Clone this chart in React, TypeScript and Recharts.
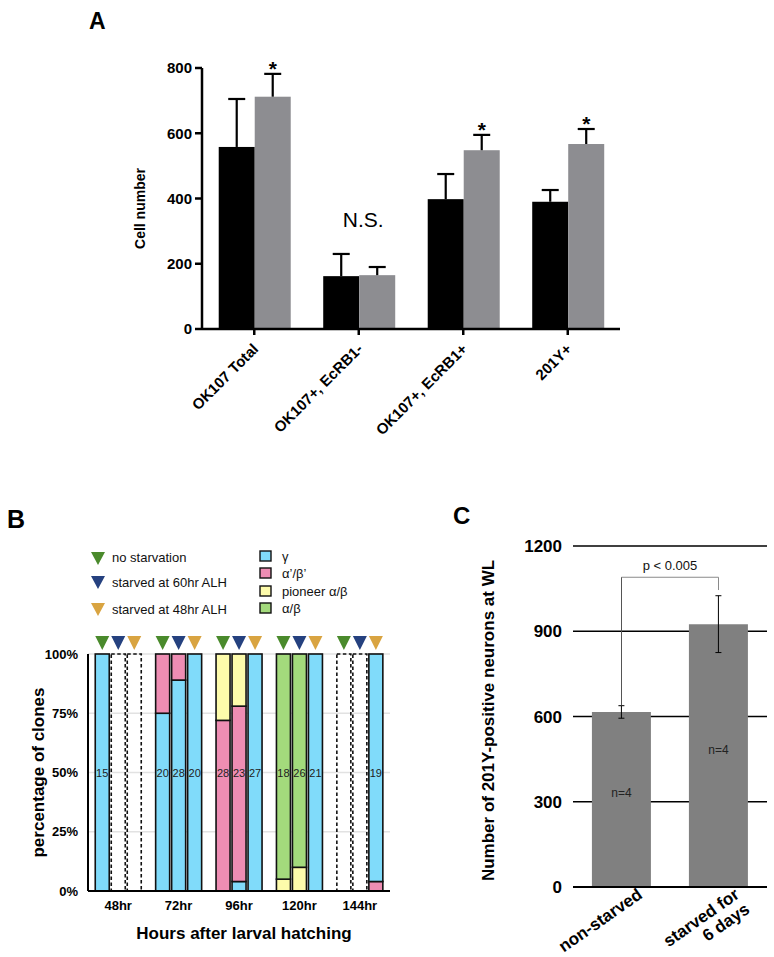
import React from 'react';
import { BarChart, Bar, XAxis, YAxis, CartesianGrid, ErrorBar, LabelList, ReferenceLine, Label } from 'recharts';

const FONT = '"Liberation Sans", Arial, Helvetica, sans-serif';

// ---------- Panel A ----------
const aCategories = ['OK107 Total', 'OK107+, EcRB1-', 'OK107+, EcRB1+', '201Y+'];
const aFed = [558, 162, 398, 390];
const aFedErr = [147, 68, 77, 36];
const aStarved = [712, 165, 548, 567];
const aStarvedErr = [70, 25, 47, 46];
const aSignif = ['*', 'N.S.', '*', '*'];
const aTicks = [0, 200, 400, 600, 800];

// ---------- Panel B ----------
const bCategories = ['48hr', '72hr', '96hr', '120hr', '144hr'];
const bYTicks = [0, 25, 50, 75, 100];
const nsAbpLow = [0, 0, 0, 0, 0];
const nsGamma = [100, 75, 0, 0, 0];
const nsAbp = [0, 25, 72, 0, 0];
const nsPioneer = [0, 0, 28, 5, 0];
const nsAb = [0, 0, 0, 95, 0];
const nsNone = [0, 0, 0, 0, 100];
const nsN = [15, 20, 28, 18, 0];
const s60AbpLow = [0, 0, 0, 0, 0];
const s60Gamma = [0, 89, 4, 0, 0];
const s60Abp = [0, 11, 74, 0, 0];
const s60Pioneer = [0, 0, 22, 10, 0];
const s60Ab = [0, 0, 0, 90, 0];
const s60None = [100, 0, 0, 0, 100];
const s60N = [0, 28, 23, 26, 0];
const s48AbpLow = [0, 0, 0, 0, 4];
const s48Gamma = [0, 100, 100, 100, 96];
const s48Abp = [0, 0, 0, 0, 0];
const s48Pioneer = [0, 0, 0, 0, 0];
const s48Ab = [0, 0, 0, 0, 0];
const s48None = [100, 0, 0, 0, 0];
const s48N = [0, 20, 27, 21, 19];
const bTypeLabels = ['γ', 'α’/β’', 'pioneer α/β', 'α/β'];

// ---------- Panel C ----------
const cCategories = ['non-starved', 'starved for\n6 days'];
const cValues = [616, 925];
const cErrors = [22, 100];
const cN = ['n=4', 'n=4'];
const cTicks = [0, 300, 600, 900, 1200];
const cBracketY = 1090;
const cBracketEnds = [640, 1045];
const cPLabel = 'p < 0.005';

const CYAN = '#80dbfa';
const PINK = '#ee8db3';
const YELLOW = '#fdfbab';
const GREEN = '#a3da7c';
const typeColors = [CYAN, PINK, YELLOW, GREEN];

const aData = aCategories.map((name, i) => ({
  name,
  fed: aFed[i],
  fedErr: aFedErr[i],
  starved: aStarved[i],
  starvedErr: aStarvedErr[i],
  sig: aSignif[i],
}));

const segOrder = ['abpLow', 'gamma', 'abp', 'pioneer', 'ab', 'none'];
const segFill: Record<string, string> = {
  abpLow: PINK,
  gamma: CYAN,
  abp: PINK,
  pioneer: YELLOW,
  ab: GREEN,
  none: 'none',
};

const bConditions = [
  {
    id: 'ns',
    label: 'no starvation',
    color: '#4a8a2c',
    segs: { abpLow: nsAbpLow, gamma: nsGamma, abp: nsAbp, pioneer: nsPioneer, ab: nsAb, none: nsNone } as Record<string, number[]>,
    n: nsN,
  },
  {
    id: 's60',
    label: 'starved at 60hr ALH',
    color: '#25417f',
    segs: { abpLow: s60AbpLow, gamma: s60Gamma, abp: s60Abp, pioneer: s60Pioneer, ab: s60Ab, none: s60None } as Record<string, number[]>,
    n: s60N,
  },
  {
    id: 's48',
    label: 'starved at 48hr ALH',
    color: '#d9a441',
    segs: { abpLow: s48AbpLow, gamma: s48Gamma, abp: s48Abp, pioneer: s48Pioneer, ab: s48Ab, none: s48None } as Record<string, number[]>,
    n: s48N,
  },
];

const bData = bCategories.map((name, i) => {
  const row: any = { name };
  bConditions.forEach((c) => {
    segOrder.forEach((s) => {
      row[`${c.id}_${s}`] = c.segs[s][i];
    });
    row[`${c.id}_n`] = c.n[i];
  });
  return row;
});

const cData = cCategories.map((name, i) => ({ name, value: cValues[i], err: cErrors[i], n: cN[i] }));

// ---------- shapes ----------
const makeAShape = (valueKey: string, errKey: string, fill: string, isStarved: boolean) => (props: any) => {
  const { x, y, width, height, payload } = props;
  const v = payload[valueKey];
  const err = payload[errKey];
  if (!(height > 0) || !v) return <g />;
  const ppu = height / v;
  const errTop = y - err * ppu;
  const cx = x + width / 2;
  return (
    <g>
      <rect x={x} y={y} width={width} height={height} fill={fill} />
      <line x1={cx} x2={cx} y1={y} y2={errTop} stroke="#000" strokeWidth={2.2} />
      <line x1={cx - 8.5} x2={cx + 8.5} y1={errTop} y2={errTop} stroke="#000" strokeWidth={2.2} />
      {isStarved && payload.sig === '*' && (
        <text x={cx} y={errTop + 2} textAnchor="middle" fontSize={21} fontWeight={700} fontFamily={FONT} fill="#000">
          *
        </text>
      )}
      {!isStarved && payload.sig !== '*' && (
        <text x={x + width + 4} y={errTop - 27} textAnchor="middle" fontSize={21} fontFamily={FONT} fill="#000">
          {payload.sig}
        </text>
      )}
    </g>
  );
};

const makeBShape = (cid: string, seg: string, triColor: string) => (props: any) => {
  const { x, y, width, height, payload } = props;
  const v = payload[`${cid}_${seg}`];
  if (!v || v <= 0 || !(height > 0)) return <g />;
  const idx = segOrder.indexOf(seg);
  let lower = 0;
  let total = 0;
  segOrder.forEach((s, k) => {
    const val = payload[`${cid}_${s}`] || 0;
    total += val;
    if (k < idx) lower += val;
  });
  const upper = lower + v;
  const ppu = height / v;
  const zeroY = y + height + lower * ppu;
  const cx = x + width / 2;
  const n = payload[`${cid}_n`];
  const isNone = seg === 'none';
  return (
    <g>
      <rect
        x={x}
        y={y}
        width={width}
        height={height}
        fill={isNone ? 'none' : segFill[seg]}
        stroke="#111"
        strokeWidth={1.6}
        strokeDasharray={isNone ? '3.5 2.5' : undefined}
      />
      {Math.abs(upper - total) < 1e-6 && (
        <polygon points={`${cx - 7},${y - 18} ${cx + 7},${y - 18} ${cx},${y - 4}`} fill={triColor} />
      )}
      {!isNone && n > 0 && lower <= 50 && upper > 50 && (
        <text x={cx} y={zeroY - 50 * ppu + 4} textAnchor="middle" fontSize={11} fill="#222" fontFamily={FONT}>
          {n}
        </text>
      )}
    </g>
  );
};

const ATick = (props: any) => {
  const { x, y, payload } = props;
  return (
    <text
      transform={`translate(${x + 5},${y + 13}) rotate(-45)`}
      textAnchor="end"
      fontSize={15}
      fontWeight={700}
      fontFamily={FONT}
      fill="#000"
    >
      {payload.value}
    </text>
  );
};

const CTick = (props: any) => {
  const { x, y, payload } = props;
  const lines = String(payload.value).split('\n');
  return (
    <g transform={`translate(${x + 22},${y + 2}) rotate(-35)`}>
      {lines.map((l, i) => (
        <text key={i} x={0} y={i * 18} textAnchor="end" fontSize={17} fontWeight={700} fontFamily={FONT} fill="#000">
          {l}
        </text>
      ))}
    </g>
  );
};

const vLabel = (text: string, dx: number, dy: number, size: number) => (p: any) => {
  const vb = p.viewBox;
  if (!vb) return null;
  const cx = vb.x + dx;
  const cy = vb.y + vb.height / 2 + dy;
  return (
    <text
      x={cx}
      y={cy}
      transform={`rotate(-90, ${cx}, ${cy})`}
      textAnchor="middle"
      fontSize={size}
      fontWeight={700}
      fontFamily={FONT}
      fill="#000"
    >
      {text}
    </text>
  );
};

const PanelA = () => (
  <BarChart
    width={774}
    height={460}
    data={aData}
    margin={{ top: 68, right: 154, bottom: 21, left: 72 }}
    barCategoryGap="16%"
    barGap={0}
  >
    <XAxis
      dataKey="name"
      height={110}
      interval={0}
      axisLine={{ stroke: '#000', strokeWidth: 2.5 }}
      tickLine={{ stroke: '#000', strokeWidth: 2.5 }}
      tickSize={6}
      tick={<ATick />}
    />
    <YAxis
      width={130}
      domain={[0, 800]}
      ticks={aTicks}
      interval={0}
      axisLine={{ stroke: '#000', strokeWidth: 2.5 }}
      tickLine={{ stroke: '#000', strokeWidth: 2.5 }}
      tickSize={7}
      tickMargin={3}
      tick={{ fill: '#000', fontSize: 15, fontWeight: 700, fontFamily: FONT }}
    >
      <Label content={vLabel('Cell number', 73, 10, 14)} />
    </YAxis>
    <Bar dataKey="fed" fill="#000" isAnimationActive={false} shape={makeAShape('fed', 'fedErr', '#000', false)} />
    <Bar
      dataKey="starved"
      fill="#8d8d91"
      isAnimationActive={false}
      shape={makeAShape('starved', 'starvedErr', '#8d8d91', true)}
    />
  </BarChart>
);

const PanelB = () => (
  <BarChart
    width={400}
    height={357}
    data={bData}
    margin={{ top: 54, right: 10, bottom: 36, left: 8 }}
    barCategoryGap="12%"
    barGap={2}
  >
    <CartesianGrid vertical={false} stroke="#e2e2e2" strokeWidth={1.5} />
    <XAxis
      dataKey="name"
      height={30}
      interval={0}
      axisLine={{ stroke: '#000', strokeWidth: 2 }}
      tickLine={false}
      tickSize={6}
      tickMargin={4}
      tick={{ fill: '#000', fontSize: 13, fontWeight: 700, fontFamily: FONT }}
    >
      <Label
        content={(p: any) => {
          const vb = p.viewBox;
          if (!vb) return null;
          return (
            <text
              x={vb.x + vb.width / 2 + 5}
              y={vb.y + 48}
              textAnchor="middle"
              fontSize={17}
              fontWeight={700}
              fontFamily={FONT}
              fill="#000"
            >
              Hours after larval hatching
            </text>
          );
        }}
      />
    </XAxis>
    <YAxis
      width={80}
      domain={[0, 100]}
      ticks={bYTicks}
      interval={0}
      tickFormatter={(v: number) => `${v}%`}
      axisLine={{ stroke: '#000', strokeWidth: 2 }}
      tickLine={false}
      tickSize={6}
      tickMargin={4}
      tick={{ fill: '#000', fontSize: 13, fontWeight: 700, fontFamily: FONT }}
    >
      <Label content={vLabel('percentage of clones', 36, 0, 17)} />
    </YAxis>
    {bConditions.map((c) =>
      segOrder.map((s) => (
        <Bar
          key={`${c.id}_${s}`}
          dataKey={`${c.id}_${s}`}
          stackId={c.id}
          fill={segFill[s]}
          isAnimationActive={false}
          shape={makeBShape(c.id, s, c.color)}
        />
      ))
    )}
  </BarChart>
);

const PanelC = () => (
  <BarChart
    width={374}
    height={457}
    data={cData}
    margin={{ top: 46, right: 7, bottom: 10, left: 13 }}
    barCategoryGap="19.5%"
  >
    <CartesianGrid vertical={false} stroke="#000" strokeWidth={1.5} />
    <XAxis
      dataKey="name"
      height={60}
      interval={0}
      axisLine={{ stroke: '#000', strokeWidth: 2 }}
      tickLine={false}
      tickSize={6}
      tick={<CTick />}
    />
    <YAxis
      width={160}
      domain={[0, 1200]}
      ticks={cTicks}
      interval={0}
      axisLine={false}
      tickLine={false}
      tickSize={6}
      tickMargin={5}
      tick={{ fill: '#000', fontSize: 17, fontWeight: 700, fontFamily: FONT }}
    >
      <Label content={vLabel('Number of 201Y-positive neurons at WL', 81, 4, 17)} />
    </YAxis>
    <Bar dataKey="value" fill="#808080" isAnimationActive={false}>
      <ErrorBar dataKey="err" width={3} stroke="#000" strokeWidth={1} />
      <LabelList
        dataKey="n"
        content={(p: any) => {
          const b = p.viewBox ?? p;
          return (
            <text
              x={b.x + b.width / 2}
              y={b.y + b.height / 2 - 2}
              textAnchor="middle"
              fontSize={12}
              fill="#222"
              fontFamily={FONT}
            >
              {p.value}
            </text>
          );
        }}
      />
    </Bar>
    <ReferenceLine
      segment={[
        { x: cCategories[0], y: cBracketY },
        { x: cCategories[1], y: cBracketY },
      ]}
      stroke="#8a8a8a"
      strokeWidth={1.2}
      ifOverflow="visible"
      label={{ value: cPLabel, position: 'top', offset: 7, fill: '#111', fontSize: 13, fontFamily: FONT }}
    />
    <ReferenceLine
      segment={[
        { x: cCategories[0], y: cBracketY },
        { x: cCategories[0], y: cBracketEnds[0] },
      ]}
      stroke="#555"
      strokeWidth={1}
      ifOverflow="visible"
    />
    <ReferenceLine
      segment={[
        { x: cCategories[1], y: cBracketY },
        { x: cCategories[1], y: cBracketEnds[1] },
      ]}
      stroke="#8a8a8a"
      strokeWidth={1}
      ifOverflow="visible"
    />
  </BarChart>
);

const legendTriY = [552, 576, 603];
const legendTextY = [562, 587, 614];
const legendSqY = [551, 568, 586, 603];
const legendSqTextY = [561, 578, 596, 613];

const Overlay = () => (
  <svg width={774} height={957} style={{ position: 'absolute', left: 0, top: 0, pointerEvents: 'none' }}>
    <text x={89} y={29} fontSize={23} fontWeight={700} fontFamily={FONT} fill="#000">
      A
    </text>
    <text x={7} y={528} fontSize={25} fontWeight={700} fontFamily={FONT} fill="#000">
      B
    </text>
    <text x={453} y={524} fontSize={24} fontWeight={700} fontFamily={FONT} fill="#000">
      C
    </text>
    {bConditions.map((c, i) => (
      <g key={c.id}>
        <polygon
          points={`${91},${legendTriY[i]} ${105},${legendTriY[i]} ${98},${legendTriY[i] + 13}`}
          fill={c.color}
        />
        <text x={112} y={legendTextY[i]} fontSize={13} fontFamily={FONT} fill="#111">
          {c.label}
        </text>
      </g>
    ))}
    {bTypeLabels.map((t, i) => (
      <g key={t}>
        <rect x={260} y={legendSqY[i]} width={11} height={10} fill={typeColors[i]} stroke="#111" strokeWidth={1.4} />
        <text x={282} y={legendSqTextY[i]} fontSize={13} fontFamily={FONT} fill="#111">
          {t}
        </text>
      </g>
    ))}
  </svg>
);

export default function App() {
  return (
    <div style={{ position: 'absolute', left: 0, top: 0, width: 774, height: 957, background: '#fff', fontFamily: FONT, overflow: 'hidden' }}>
      <div style={{ position: 'absolute', left: 0, top: 0 }}>
        <PanelA />
      </div>
      <div style={{ position: 'absolute', left: 0, top: 600 }}>
        <PanelB />
      </div>
      <div style={{ position: 'absolute', left: 400, top: 500 }}>
        <PanelC />
      </div>
      <Overlay />
    </div>
  );
}
